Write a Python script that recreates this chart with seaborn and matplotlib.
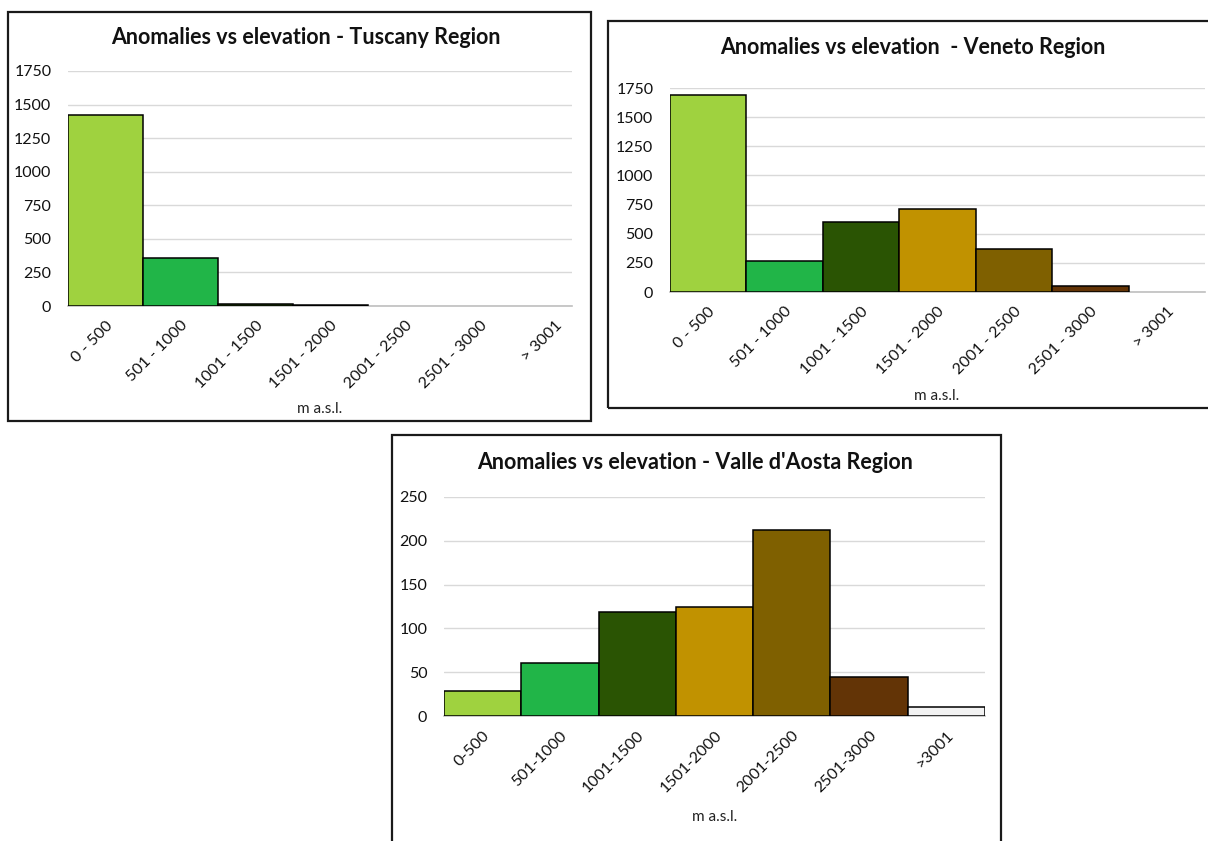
import matplotlib
matplotlib.use("Agg")
import matplotlib.pyplot as plt
import seaborn as sns
import pandas as pd
from matplotlib.patches import Rectangle

# Elevation bands (m a.s.l.) and anomaly counts per region
bands_spaced = ["0 - 500", "501 - 1000", "1001 - 1500", "1501 - 2000",
                "2001 - 2500", "2501 - 3000", "> 3001"]
bands_compact = ["0-500", "501-1000", "1001-1500", "1501-2000",
                 "2001-2500", "2501-3000", ">3001"]
tuscany_counts = [1420, 360, 12, 6, 0, 0, 0]
veneto_counts = [1690, 265, 600, 710, 370, 55, 0]
aosta_counts = [28, 60, 119, 125, 212, 44, 10]
band_colors = ["#9FD23F", "#21B548", "#2A5403", "#C19200",
               "#7F6000", "#633406", "#F2F2F2"]

W, H = 1208, 841
sns.set_theme(style="white")
plt.rcParams['font.family'] = ['Lato', 'DejaVu Sans']

fig = plt.figure(figsize=(W / 100, H / 100), dpi=100)
fig.patch.set_facecolor("white")


def px_rect(x0, y0, x1, y1):
    """Convert a pixel box (top-left origin) into figure fractions."""
    return [x0 / W, 1 - y1 / H, (x1 - x0) / W, (y1 - y0) / H]


def panel(box, frame, labels, counts, ymax, ystep, title, title_xy,
          xlabel_xy, xright=None):
    ax = fig.add_axes(px_rect(*box))
    df = pd.DataFrame({"band": labels, "count": counts})
    sns.barplot(data=df, x="band", y="count", hue="band", palette=band_colors,
                saturation=1, width=1.0, edgecolor="black", linewidth=1.1,
                legend=False, ax=ax, zorder=3)
    # empty bands get no outline, leaving just the baseline
    for patch in ax.patches:
        if patch.get_height() == 0:
            patch.set_linewidth(0)
    ax.set_ylim(0, ymax)
    ax.set_xlim(-0.5, xright if xright is not None else len(labels) - 0.5)
    ax.set_yticks(range(0, ymax + 1, ystep))
    ax.yaxis.grid(True, color="#D9D9D9", linewidth=1.0, zorder=0)
    ax.set_axisbelow(True)
    for s in ["left", "right", "top"]:
        ax.spines[s].set_visible(False)
    ax.spines["bottom"].set_color("#BFBFBF")
    ax.spines["bottom"].set_linewidth(1.2)
    ax.tick_params(axis="both", length=0, labelsize=11.5, colors="#111111")
    ax.tick_params(axis="y", pad=12)
    ax.set_xticks(range(len(labels)))
    ax.set_xticklabels(labels, rotation=45, ha="right", va="top",
                       rotation_mode="anchor")
    ax.tick_params(axis="x", pad=9)
    ax.set_xlabel("")
    ax.set_ylabel("")
    fig.text(title_xy[0] / W, 1 - title_xy[1] / H, title, ha="center",
             va="center", fontsize=15.5, fontweight="bold", color="#111111")
    fig.text(xlabel_xy[0] / W, 1 - xlabel_xy[1] / H, "m a.s.l.", ha="center",
             va="center", fontsize=11, color="#222222")
    fx0, fy0, fx1, fy1 = frame
    fig.add_artist(Rectangle((fx0 / W, 1 - fy1 / H), (fx1 - fx0) / W,
                             (fy1 - fy0) / H, transform=fig.transFigure,
                             fill=False, edgecolor="#1A1A1A", linewidth=1.6))
    return ax


panel((68, 71, 572, 306), (8, 12, 591, 421), bands_spaced, tuscany_counts,
      1750, 250, "Anomalies vs elevation - Tuscany Region", (306, 38),
      (320, 409), xright=6.22)
panel((670, 88, 1205, 292), (608, 21, 1220, 408), bands_spaced, veneto_counts,
      1750, 250, "Anomalies vs elevation  - Veneto Region", (913, 48), (937, 396))
panel((444, 497, 985, 716), (392, 435, 1001, 860), bands_compact, aosta_counts,
      250, 50, "Anomalies vs elevation - Valle d'Aosta Region", (695, 463), (715, 817))

fig.savefig("out.png", dpi=100, facecolor="white")
